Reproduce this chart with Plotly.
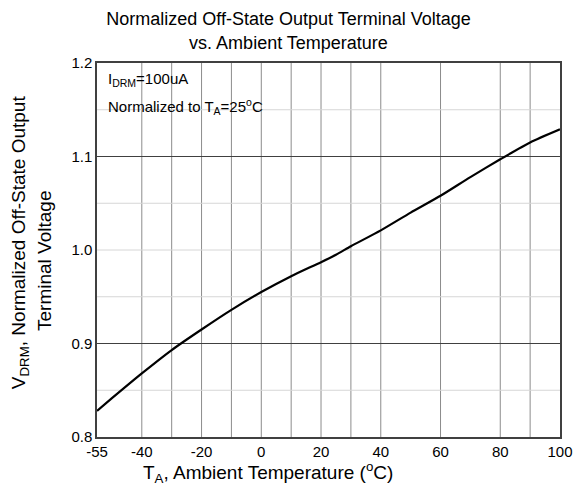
import plotly.graph_objects as go

# Data
temp_c = [-55, -50, -40, -30, -20, -10, 0, 10, 20, 25, 30, 40, 50, 60, 70, 80, 90, 100]
v_norm = [0.828, 0.8415, 0.868, 0.893, 0.915, 0.936, 0.955, 0.972, 0.987, 0.995,
          1.004, 1.021, 1.040, 1.058, 1.078, 1.097, 1.115, 1.129]

x_tick_vals = [-55, -40, -20, 0, 20, 40, 60, 80, 100]
x_tick_text = ["-55", "-40", "-20", "0", "20", "40", "60", "80", "100"]
y_tick_vals = [0.8, 0.9, 1.0, 1.1, 1.2]
y_tick_text = ["0.8", "0.9", "1.0", "1.1", "1.2"]

x_grid = [-40, -30, -20, -10, 0, 10, 20, 30, 40, 60, 80, 90]
y_grid_dark = [0.9, 1.1]
y_grid_light = [0.85, 0.95, 1.0, 1.05, 1.15]

x_range = [-55, 100]
y_range = [0.8, 1.2]

FONT = "Arial, Liberation Sans, sans-serif"

fig = go.Figure()
fig.add_trace(go.Scatter(
    x=temp_c, y=v_norm, mode="lines",
    line=dict(color="black", width=2.2, shape="spline", smoothing=0.6),
    showlegend=False, hoverinfo="skip"))

shapes = []
for gx in x_grid:
    shapes.append(dict(type="line", xref="x", yref="y", x0=gx, x1=gx,
                       y0=y_range[0], y1=y_range[1], layer="below",
                       line=dict(color="#8c8c8c", width=1)))
for gy in y_grid_light:
    shapes.append(dict(type="line", xref="x", yref="y", x0=x_range[0], x1=x_range[1],
                       y0=gy, y1=gy, layer="below",
                       line=dict(color="#d6d6d6", width=1)))
for gy in y_grid_dark:
    shapes.append(dict(type="line", xref="x", yref="y", x0=x_range[0], x1=x_range[1],
                       y0=gy, y1=gy, layer="below",
                       line=dict(color="#404040", width=1)))

annotations = [
    dict(text="I<sub>DRM</sub>=100uA", xref="paper", yref="paper",
         x=0.02, y=0.955, xanchor="left", yanchor="middle", showarrow=False,
         font=dict(family=FONT, size=15, color="black")),
    dict(text="Normalized to T<sub>A</sub>=25<sup>o</sup>C", xref="paper", yref="paper",
         x=0.02, y=0.885, xanchor="left", yanchor="middle", showarrow=False,
         font=dict(family=FONT, size=15, color="black")),
    dict(text="T<sub>A</sub>, Ambient Temperature (<sup>o</sup>C)", xref="paper", yref="paper",
         x=0.37, y=-0.095, xanchor="center", yanchor="middle", showarrow=False,
         font=dict(family=FONT, size=19, color="black")),
    dict(text="V<sub>DRM</sub>, Normalized Off-State Output", xref="paper", yref="paper",
         x=-0.167, y=0.52, xanchor="center", yanchor="middle", showarrow=False,
         textangle=-90, font=dict(family=FONT, size=19, color="black")),
    dict(text="Terminal Voltage", xref="paper", yref="paper",
         x=-0.115, y=0.47, xanchor="center", yanchor="middle", showarrow=False,
         textangle=-90, font=dict(family=FONT, size=19, color="black")),
]

fig.update_layout(
    width=577, height=495,
    margin=dict(l=97, r=17, t=63, b=58),
    paper_bgcolor="white", plot_bgcolor="white",
    title=dict(text="Normalized Off-State Output Terminal Voltage<br>vs. Ambient Temperature",
               x=0.5, xref="container", xanchor="center",
               y=0.949, yref="container", yanchor="top",
               font=dict(family=FONT, size=18, color="black")),
    shapes=shapes, annotations=annotations,
    xaxis=dict(range=x_range, tickvals=x_tick_vals, ticktext=x_tick_text,
               showgrid=False, zeroline=False, ticks="", automargin=False,
               showline=True, mirror=True, linecolor="#404040", linewidth=1.5,
               tickfont=dict(family=FONT, size=15, color="black")),
    yaxis=dict(range=y_range, tickvals=y_tick_vals, ticktext=y_tick_text,
               showgrid=False, zeroline=False, ticks="", automargin=False,
               showline=True, mirror=True, linecolor="#404040", linewidth=1.5,
               tickfont=dict(family=FONT, size=15, color="black")),
)

fig.write_html("out.html", config={"displayModeBar": False},
               post_script="document.body.style.margin='0';document.body.style.padding='0';")
